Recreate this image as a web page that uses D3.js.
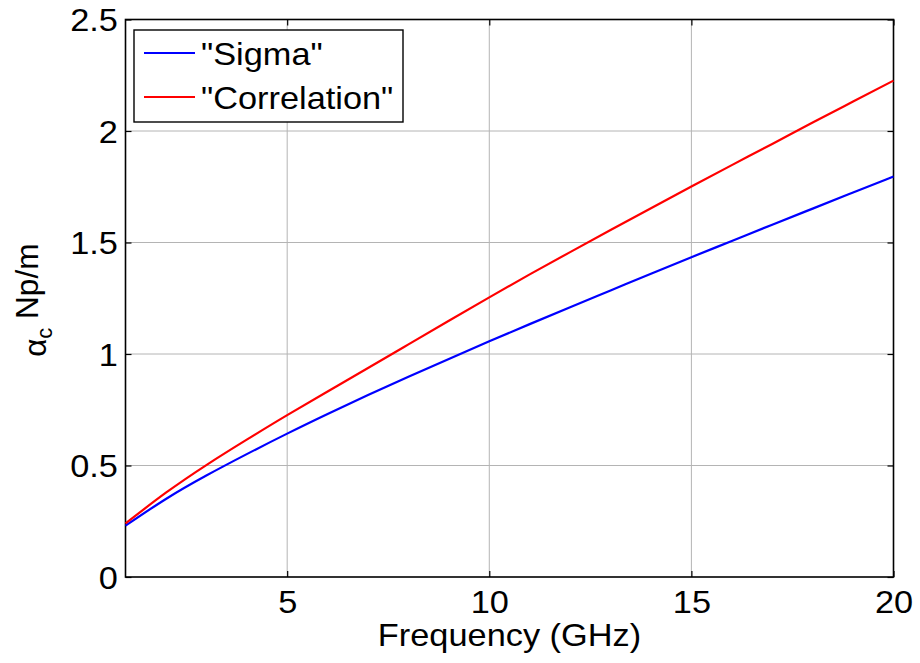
<!DOCTYPE html>
<html>
<head>
<meta charset="utf-8">
<script src="https://cdn.jsdelivr.net/npm/d3@7"></script>
<style>
  html, body { margin: 0; padding: 0; background: #fff; }
  svg text { font-family: "Liberation Sans", Arial, Helvetica, sans-serif; fill: #000; }
</style>
</head>
<body>
<svg id="chart" width="920" height="663"></svg>
<script>
const frequency = [1,2,3,4,5,6,7,8,9,10,11,12,13,14,15,16,17,18,19,20];
const sigma = [0.230,0.350,0.455,0.551,0.643,0.731,0.816,0.898,0.978,1.057,1.134,1.210,1.285,1.360,1.434,1.507,1.580,1.652,1.724,1.796];
const correlation = [0.240,0.378,0.502,0.616,0.726,0.832,0.937,1.043,1.149,1.254,1.357,1.457,1.556,1.654,1.751,1.847,1.942,2.038,2.132,2.226];
const seriesNames = ['"Sigma"', '"Correlation"'];
const seriesColors = ["#0000ff", "#ff0000"];
const xTicks = [5, 10, 15, 20];
const yTicks = [0, 0.5, 1, 1.5, 2, 2.5];
const xLabel = "Frequency (GHz)";

const svg = d3.select("#chart");
const L = 125.5, R = 893.5, T = 19.5, B = 577;
const x = d3.scaleLinear().domain([1, 20]).range([L, R]);
const y = d3.scaleLinear().domain([0, 2.5]).range([B, T]);
const fs = 31.5;
const sx = 1.09;
const stretch = (sel, px, py) => sel.attr("transform", `translate(${px},${py}) scale(${sx},1) translate(${-px},${-py})`);

// grid
const grid = svg.append("g").attr("stroke", "#b4b4b4").attr("stroke-width", 1);
xTicks.filter(d => d < 20).forEach(d => grid.append("line")
  .attr("x1", x(d)).attr("x2", x(d)).attr("y1", T).attr("y2", B));
yTicks.filter(d => d > 0 && d < 2.5).forEach(d => grid.append("line")
  .attr("x1", L).attr("x2", R).attr("y1", y(d)).attr("y2", y(d)));

// axes with inward ticks
const tl = 6;
const xa = svg.append("g").attr("transform", `translate(0,${B})`)
  .call(d3.axisBottom(x).tickValues(xTicks).tickSizeInner(-tl).tickSizeOuter(0).tickPadding(14).tickFormat(d3.format("d")));
const xt = svg.append("g").attr("transform", `translate(0,${T})`)
  .call(d3.axisTop(x).tickValues(xTicks).tickSizeInner(-tl).tickSizeOuter(0).tickFormat(""));
const ya = svg.append("g").attr("transform", `translate(${L},0)`)
  .call(d3.axisLeft(y).tickValues(yTicks).tickSizeInner(-tl).tickSizeOuter(0).tickPadding(7).tickFormat(d => d));
const yr = svg.append("g").attr("transform", `translate(${R},0)`)
  .call(d3.axisRight(y).tickValues(yTicks).tickSizeInner(-tl).tickSizeOuter(0).tickFormat(""));
[xa, xt, ya, yr].forEach(g => {
  g.select(".domain").remove();
  g.selectAll(".tick line").attr("stroke", "#000").attr("stroke-width", 1.2);
  g.selectAll(".tick text").attr("font-size", fs).attr("font-family", "Liberation Sans, Arial, sans-serif")
    .attr("transform", `scale(${sx},1)`);
});
xa.selectAll(".tick text").attr("dy", "0.71em");
ya.selectAll(".tick text").attr("dy", "0.36em");

// box
svg.append("rect").attr("x", L).attr("y", T).attr("width", R - L).attr("height", B - T)
  .attr("fill", "none").attr("stroke", "#000").attr("stroke-width", 1.6);

// lines
const line = d3.line().x((d, i) => x(frequency[i])).y(d => y(d)).curve(d3.curveNatural);
[sigma, correlation].forEach((s, i) => {
  svg.append("path").attr("d", line(s)).attr("fill", "none")
    .attr("stroke", seriesColors[i]).attr("stroke-width", 2.2);
});

// axis labels
const xl = svg.append("text").attr("x", (L + R) / 2).attr("y", 646).attr("text-anchor", "middle")
  .attr("font-size", fs).text(xLabel);
stretch(xl, (L + R) / 2, 646);
const yl = svg.append("text").attr("transform", `translate(38,${(T + B) / 2 + 2}) rotate(-90)`)
  .attr("text-anchor", "middle").attr("font-size", fs);
yl.append("tspan").attr("dy", 8).text("α");
yl.append("tspan").attr("font-size", 22).attr("dy", 6).text("c");
yl.append("tspan").attr("dy", -14).text(" Np/m");

// legend
const lg = svg.append("g");
lg.append("rect").attr("x", 134).attr("y", 30).attr("width", 269).attr("height", 92)
  .attr("fill", "#fff").attr("stroke", "#000").attr("stroke-width", 1.4);
seriesNames.forEach((n, i) => {
  const yy = 53 + i * 44;
  lg.append("line").attr("x1", 144).attr("x2", 195).attr("y1", yy).attr("y2", yy)
    .attr("stroke", seriesColors[i]).attr("stroke-width", 2.2);
  const t = lg.append("text").attr("x", 201).attr("y", yy + 12).attr("font-size", fs).text(n);
  stretch(t, 201, yy + 12);
});
</script>
</body>
</html>
